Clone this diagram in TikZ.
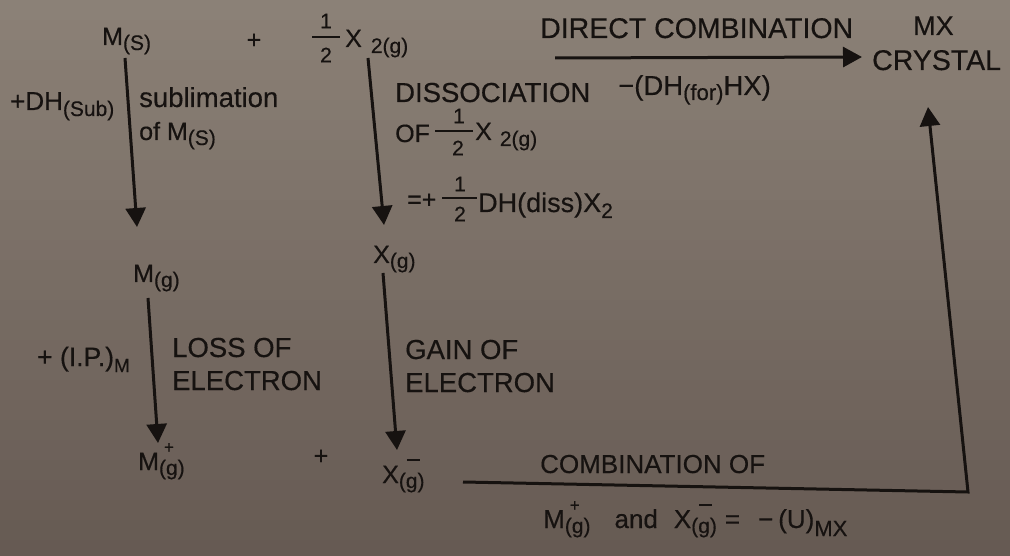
\documentclass[tikz,border=0pt]{standalone}
\usepackage{fontspec}
\setmainfont{Liberation Sans}[FakeBold=0.4]
\usetikzlibrary{arrows.meta}
\definecolor{bgtop}{rgb}{0.545,0.505,0.465}
\definecolor{bgbot}{rgb}{0.40,0.353,0.325}
\definecolor{ink}{rgb}{0.086,0.07,0.063}
\newcommand{\fs}[1]{\fontsize{#1}{#1}\selectfont}
\newcommand{\lw}[2][5pt]{\raisebox{-#1}{\fs{21}#2}}
\newcommand{\plusg}{\rlap{\raisebox{17pt}{\hspace{5pt}\fs{17}+}}\lw{(g)}}
\newcommand{\minusg}{\rlap{\hspace{8pt}\raisebox{22pt}{\rule{13pt}{2.5pt}}}\lw{(g)}}
\begin{document}
\begin{tikzpicture}[x=1pt,y=-1pt,
  lbl/.style={inner sep=0pt, anchor=base west, text=ink, font=\fs{27.5}},
  spec/.style={lbl, font=\fs{25}},
  num/.style={inner sep=0pt, anchor=center, text=ink, font=\fs{21}},
  arr/.style={draw=ink, line width=3pt, -{Triangle[length=19pt,width=20pt]}},
  fbar/.style={draw=ink, line width=2.5pt}]
\useasboundingbox (0,0) rectangle (1010,556);
\foreach \i in {0,...,27}{
  \pgfmathsetmacro\p{100-\i*100/27}
  \fill[bgtop!\p!bgbot] (0,\i*20) rectangle (1010,\i*20+21);
}

% top row
\node[spec] (ms) at (102,45) {M\lw{(S)}};
\node[spec,anchor=center] (plus1) at (254,41) {+};
\node[num] (h1n) at (326,21) {1};
\node[num] (h1d) at (326,55) {2};
\draw[fbar] (312,37) -- (340,37);
\node[spec] (x2) at (345,47) {X\hspace{9pt}\lw[6pt]{2(g)}};

% sublimation
\node[spec,font=\fs{26}] (sub) at (10,110) {+DH\lw[6pt]{(Sub)}};
\node[lbl] (subl1) at (139,107) {sublimation};
\node[spec] (subl2) at (139,140) {of M\lw{(S)}};

% dissociation
\node[lbl] (diss1) at (395,102) {DISSOCIATION};
\node[spec] (diss2) at (395,142) {OF};
\node[num] (h2n) at (459,116) {1};
\node[num] (h2d) at (458,148) {2};
\draw[fbar] (435,131) -- (473,131);
\node[spec] (diss3) at (475,140) {X\hspace{8pt}\lw[6pt]{2(g)}};
\node[spec] (diss4) at (407,208) {=+};
\node[num] (h3n) at (460,184) {1};
\node[num] (h3d) at (460,214) {2};
\draw[fbar] (442,198) -- (477,198);
\node[lbl,font=\fs{27}] (diss5) at (478,212) {DH(diss)X\lw[6pt]{2}};

% direct combination
\node[lbl,font=\fs{28.5}] (dc) at (540,38) {DIRECT COMBINATION};
\node[lbl] (dh) at (618,95) {−(DH\lw[5pt]{\fs{22}(for)}HX)};
\node[lbl,font=\fs{27}] (mx) at (913,35) {MX};
\node[lbl,font=\fs{28.5}] (cr) at (872,70) {CRYSTAL};
\coordinate (dcs) at (555,58);
\coordinate (dce) at (862,57);
\draw[arr] (dcs) -- (dce);

% gaseous atoms
\node[spec] (mg) at (133,282) {M\lw{(g)}};
\node[spec] (xg) at (373,263) {X\lw{(g)}};
\coordinate (a1s) at (125,58);  \coordinate (a1e) at (137,227);
\coordinate (a2s) at (368,58);  \coordinate (a2e) at (384,225);
\coordinate (a3s) at (148,298); \coordinate (a3e) at (158,443);
\coordinate (a4s) at (383,273); \coordinate (a4e) at (397,450);
\draw[arr] (a1s) -- (a1e);
\draw[arr] (a2s) -- (a2e);
\draw[arr] (a3s) -- (a3e);
\draw[arr] (a4s) -- (a4e);

% ionisation / electron gain
\node[spec,font=\fs{26.5}] (ip) at (37,366) {+ (I.P.)\lw[6pt]{\fs{19}M}};
\node[lbl] (loss1) at (172,357) {LOSS OF};
\node[lbl] (loss2) at (172,390) {ELECTRON};
\node[lbl] (gain1) at (405,359) {GAIN OF};
\node[lbl] (gain2) at (405,392) {ELECTRON};

% ions
\node[spec] (mplus) at (138,470) {M\plusg};
\node[spec,anchor=center] (plus2) at (321,457) {+};
\node[spec] (xminus) at (382,483) {X\minusg};

% lattice energy
\coordinate (b1) at (463,482);
\coordinate (b2) at (968,492);
\coordinate (b3) at (928,107);
\draw[arr] (b1) -- (b2) -- (b3);
\node[lbl,font=\fs{26}] (comb1) at (540,473) {COMBINATION OF};
\node[spec,font=\fs{26}] (comb2) at (543,528) {M\plusg\hspace{24pt}and\hspace{16pt}X\minusg\hspace{8pt}=\hspace{18pt}−\hspace{5pt}(U)\lw[8pt]{\fs{22}MX}};
\end{tikzpicture}
\end{document}
